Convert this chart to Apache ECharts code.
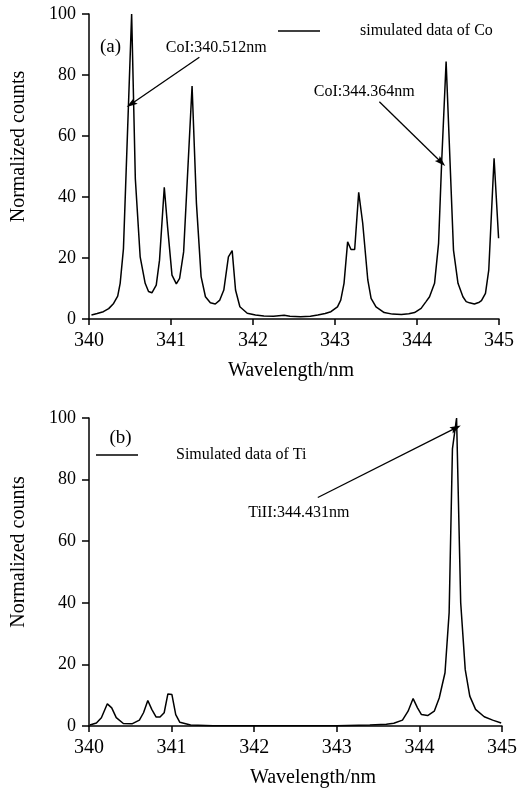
<!DOCTYPE html>
<html>
<head>
<meta charset="utf-8">
<script src="https://cdn.jsdelivr.net/npm/echarts@6/dist/echarts.min.js"></script>
<style>
html,body{margin:0;padding:0;background:#fff;}
#c{width:525px;height:791px;}
</style>
</head>
<body>
<div id="c"></div>
<script>
// Panel (a): simulated Co spectrum
const coWavelength = [340.03,340.10,340.175,340.24,340.30,340.35,340.38,340.42,340.52,340.565,340.624,340.685,340.726,340.767,340.82,340.86,340.918,340.958,341.012,341.065,341.105,341.154,341.257,341.31,341.367,341.42,341.48,341.54,341.595,341.644,341.70,341.746,341.787,341.84,341.93,342.03,342.133,342.25,342.38,342.45,342.58,342.70,342.79,342.88,342.95,343.03,343.07,343.11,343.154,343.195,343.24,343.289,343.338,343.40,343.44,343.50,343.60,343.70,343.81,343.90,343.97,344.05,344.11,344.153,344.214,344.263,344.30,344.355,344.445,344.50,344.56,344.60,344.64,344.70,344.76,344.786,344.835,344.875,344.94,344.995];
const coCounts = [1.3,1.8,2.4,3.4,5.1,7.5,11.7,23,100,46,20.4,11.7,9,8.6,11.1,19.3,43.2,30.3,14.4,11.5,13.3,22,76.4,38,13.9,7.3,5.3,4.9,6.2,9.5,20.4,22.4,9.5,4,1.9,1.3,1,0.9,1.2,0.9,0.75,0.9,1.3,1.8,2.4,4,6.2,11.7,25.3,22.8,22.8,41.5,31.4,12.8,6.8,4,2.1,1.6,1.5,1.7,2.1,3.5,5.7,7.3,11.7,24.8,51,84.4,22.6,11.7,7.3,5.7,5.3,4.9,5.5,6,8.4,16,52.7,26.5];
// Panel (b): simulated Ti spectrum
const tiWavelength = [340.01,340.09,340.15,340.222,340.275,340.33,340.416,340.52,340.61,340.66,340.712,340.76,340.813,340.86,340.91,340.955,341.004,341.05,341.10,341.23,341.5,342.0,342.5,343.0,343.4,343.6,343.69,343.795,343.863,343.924,343.977,344.025,344.10,344.18,344.24,344.31,344.36,344.40,344.45,344.50,344.555,344.61,344.68,344.785,344.887,344.99];
const tiCounts = [0.3,1,2.7,7.2,5.9,2.7,0.8,0.7,1.9,4.3,8.3,5.4,2.9,2.9,4.3,10.4,10.2,3.7,1.2,0.3,0.1,0.05,0.05,0.1,0.3,0.6,0.9,1.9,4.8,8.9,5.9,3.7,3.4,4.8,9.1,17.3,36.8,90,100,40,18.3,9.7,5.4,3,1.9,1];
// axis ranges and ticks
const xRange = [340, 345];
const xInterval = 1;
const yRange = [0, 100];
const yInterval = 20;
// annotations: [x, y] in data units
const annoA = [
  {text: 'CoI:340.512nm', pos: [341.551, 88.85], arrowFrom: [341.346, 85.8], arrowTo: [340.515, 70.5]},
  {text: 'CoI:344.364nm', pos: [343.357, 74.4], arrowFrom: [343.541, 71.2], arrowTo: [344.296, 51.4]}
];
const annoB = [
  {text: 'TiII:344.431nm', pos: [342.54, 69.1], arrowFrom: [342.77, 74.2], arrowTo: [344.442, 96.8]}
];
const panelTagA = {text: '(a)', pos: [340.262, 89.3]};
const panelTagB = {text: '(b)', pos: [340.382, 93.6]};

const FONT = 'Liberation Serif';
const zip = (a, b) => a.map((v, i) => [v, b[i]]);

function xAxisCfg(gridIndex, namePad) {
  return {
    type: 'value', gridIndex: gridIndex, min: xRange[0], max: xRange[1], interval: xInterval,
    name: 'Wavelength/nm', nameLocation: 'middle', nameGap: 42,
    nameTextStyle: {fontFamily: FONT, fontSize: 20, color: '#000', padding: namePad},
    axisLine: {show: true, onZero: false, lineStyle: {color: '#000', width: 1.5}},
    axisTick: {show: true, inside: false, length: 6, lineStyle: {color: '#000', width: 1.5}},
    axisLabel: {fontFamily: FONT, fontSize: 20, color: '#000', margin: 12},
    splitLine: {show: false}
  };
}
function yAxisCfg(gridIndex) {
  return {
    type: 'value', gridIndex: gridIndex, min: yRange[0], max: yRange[1], interval: yInterval,
    name: 'Normalized counts', nameLocation: 'middle', nameGap: 60, nameRotate: 90,
    nameTextStyle: {fontFamily: FONT, fontSize: 20, color: '#000', padding: [0, 0, 0, 40]},
    axisLine: {show: true, onZero: false, lineStyle: {color: '#000', width: 1.5}},
    axisTick: {show: true, inside: false, length: 7, lineStyle: {color: '#000', width: 1.5}},
    axisLabel: {fontFamily: FONT, fontSize: 18, color: '#000', margin: 13},
    splitLine: {show: false}
  };
}
function marks(list, tag) {
  const pts = list.map(a => ({coord: a.pos, value: a.text, label: {fontSize: 16}}));
  pts.push({coord: tag.pos, value: tag.text, label: {fontSize: 19}});
  return {
    markPoint: {
      silent: true, symbol: 'circle', symbolSize: 1,
      itemStyle: {color: 'rgba(0,0,0,0)'},
      label: {show: true, position: 'inside', formatter: p => p.value, fontFamily: FONT, color: '#000'},
      data: pts
    },
    markLine: {
      silent: true, symbol: ['none', 'path://M5,0 L10,16 L5,13 L0,16 Z'], symbolSize: [7, 11],
      lineStyle: {color: '#000', width: 1.3, type: 'solid'},
      itemStyle: {color: '#000'},
      label: {show: false},
      emphasis: {disabled: true},
      data: list.map(a => [
        {coord: a.arrowFrom, symbol: 'none'},
        {coord: a.arrowTo, symbol: 'path://M5,0 L10,16 L5,13 L0,16 Z', symbolSize: [7, 11]}
      ])
    }
  };
}

const chart = echarts.init(document.getElementById('c'), null, {renderer: 'canvas'});
chart.setOption({
  animation: false,
  backgroundColor: '#fff',
  grid: [
    {left: 89, right: 26, top: 14, bottom: 472},
    {left: 89, right: 23, top: 418, bottom: 65}
  ],
  legend: [
    {data: ['simulated data of Co'], left: 278, top: 23, padding: 0, itemWidth: 42, itemHeight: 1.5,
     icon: 'rect', itemStyle: {color: '#000'}, selectedMode: false,
     textStyle: {fontFamily: FONT, fontSize: 16, color: '#000', padding: [0, 0, 0, 35]}},
    {data: ['Simulated data of Ti'], left: 96, top: 447, padding: 0, itemWidth: 42, itemHeight: 1.5,
     icon: 'rect', itemStyle: {color: '#000'}, selectedMode: false,
     textStyle: {fontFamily: FONT, fontSize: 16, color: '#000', padding: [0, 0, 0, 33]}}
  ],
  xAxis: [xAxisCfg(0, [0, 6, 0, 0]), xAxisCfg(1, [0, 0, 0, 35])],
  yAxis: [yAxisCfg(0), yAxisCfg(1)],
  series: [
    Object.assign({
      name: 'simulated data of Co', type: 'line', xAxisIndex: 0, yAxisIndex: 0,
      data: zip(coWavelength, coCounts), showSymbol: false, smooth: false,
      lineStyle: {color: '#000', width: 1.5}, itemStyle: {color: '#000'}
    }, marks(annoA, panelTagA)),
    Object.assign({
      name: 'Simulated data of Ti', type: 'line', xAxisIndex: 1, yAxisIndex: 1,
      data: zip(tiWavelength, tiCounts), showSymbol: false, smooth: false,
      lineStyle: {color: '#000', width: 1.5}, itemStyle: {color: '#000'}
    }, marks(annoB, panelTagB))
  ]
});
</script>
</body>
</html>
